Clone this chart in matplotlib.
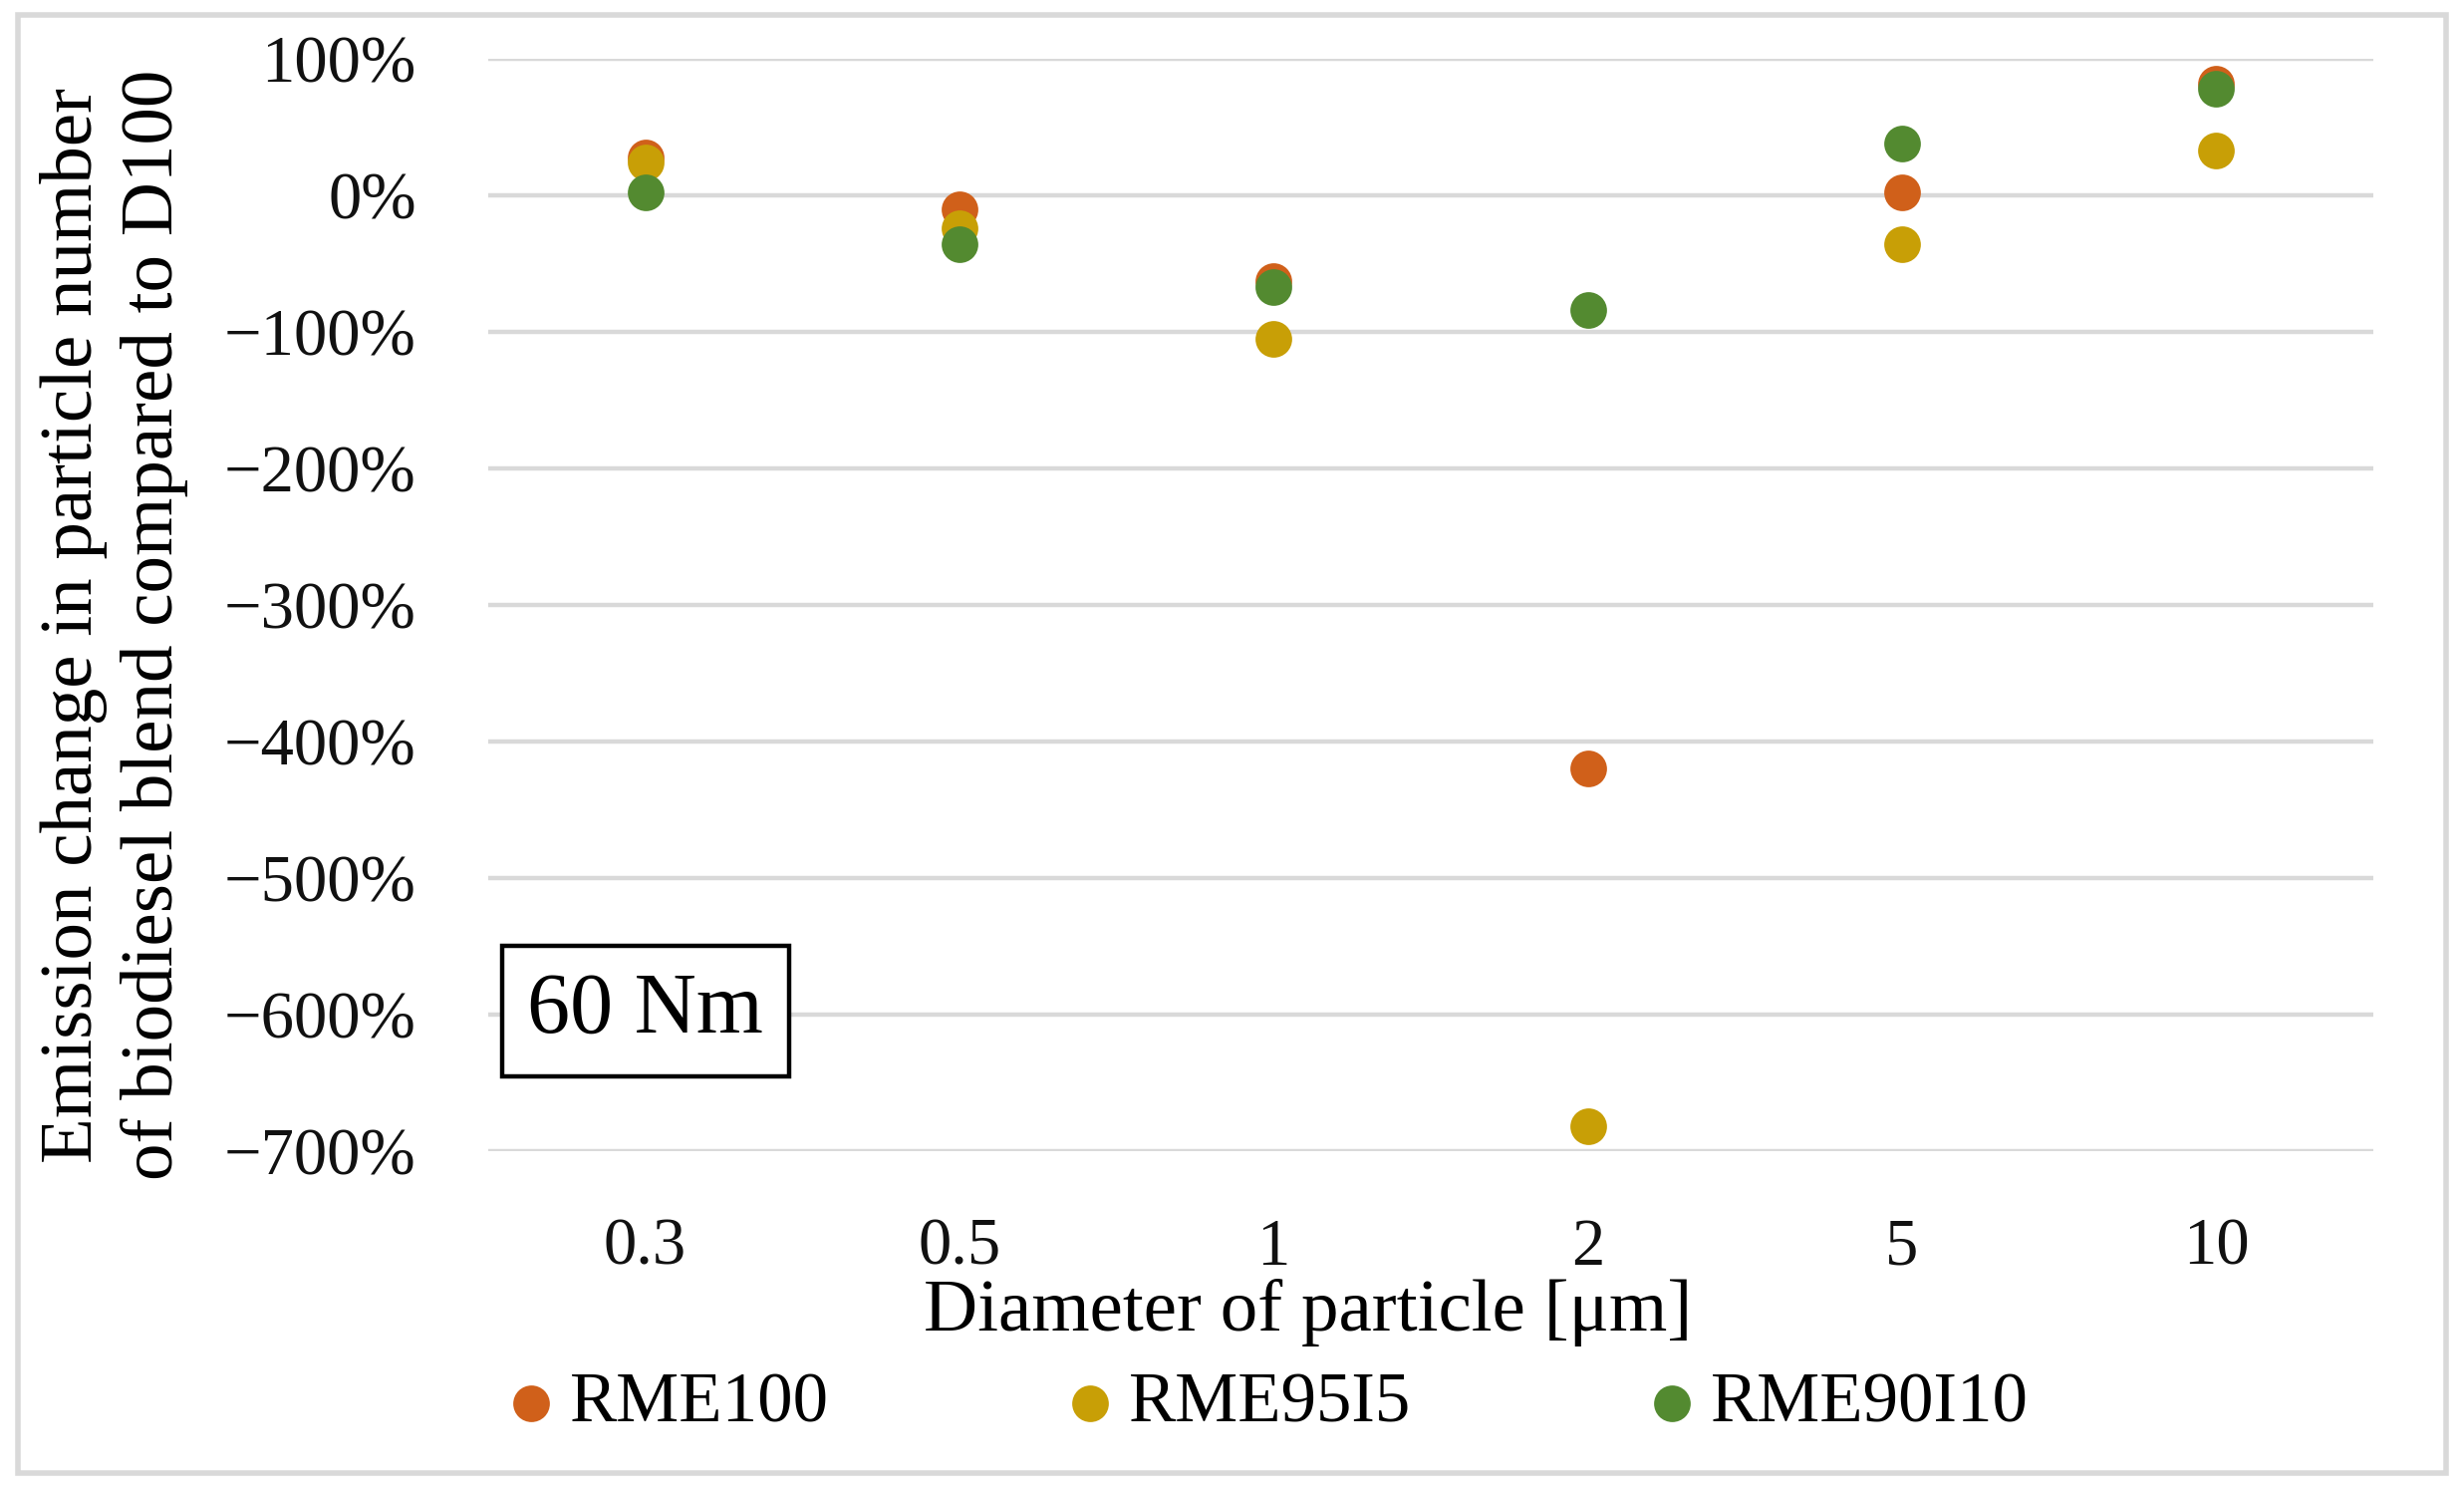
import matplotlib
matplotlib.use("Agg")
import matplotlib.pyplot as plt
from matplotlib.patches import Rectangle
from matplotlib.ticker import FuncFormatter

# data (percent change vs D100)
diameters = ["0.3", "0.5", "1", "2", "5", "10"]
rme100 = [28, -10, -63, -420, 2, 82]
rme95i5 = [24, -24, -105, -682, -36, 33]
rme90i10 = [2, -36, -67, -84, 38, 78]
series_names = ["RME100", "RME95I5", "RME90I10"]
series_colors = ["#D0601A", "#C89F06", "#538A30"]
y_ticks = [100, 0, -100, -200, -300, -400, -500, -600, -700]

plt.rcParams['font.family'] = ['Liberation Serif', 'DejaVu Serif']

fig = plt.figure(figsize=(12.365, 7.495), dpi=200)
ax = fig.add_axes([0.1981, 0.2295, 0.7651, 0.7311])

x = list(range(len(diameters)))
for vals, name, col in zip([rme100, rme95i5, rme90i10], series_names, series_colors):
    ax.scatter(x, vals, s=175, color=col, label=name, zorder=3, clip_on=False, linewidths=0)

ax.set_xlim(-0.5, len(diameters) - 0.5)
ax.set_ylim(-700, 100)
ax.set_xticks(x)
ax.set_xticklabels(diameters)
ax.set_yticks(y_ticks)
ax.yaxis.set_major_formatter(FuncFormatter(lambda v, p: ("\u2212%d%%" % -v) if v < 0 else "%d%%" % v))
ax.grid(axis='y', color='#D9D9D9', lw=1.6, zorder=0)
ax.set_axisbelow(True)
for s in ax.spines.values():
    s.set_visible(False)
ax.tick_params(axis='both', length=0, labelsize=24, colors='#111111')
ax.tick_params(axis='y', pad=26)
ax.tick_params(axis='x', pad=24)

# axis titles
fig.text(0.531, 0.1214, "Diameter of particle [\u03bcm]", ha='center', va='center', fontsize=27)
fig.text(0.0465, 0.5817, "Emission change in particle number\nof biodiesel blend compared to D100",
         rotation=90, ha='center', va='center', fontsize=27, linespacing=1.25)

# annotation box
fig.text(0.262, 0.323, "60 Nm", ha='center', va='center', fontsize=31,
         bbox=dict(boxstyle='square,pad=0.3', fc='white', ec='black', lw=1.6))

leg = fig.legend(loc='center', bbox_to_anchor=(0.515, 0.0600), ncol=3, frameon=False,
                 fontsize=25.5, columnspacing=3.4, handlelength=0.6, handletextpad=0.25,
                 borderaxespad=0)

# outer border
fig.patches.append(Rectangle((18 / 2473, 1 - 1478 / 1499), (2455 - 18) / 2473, (1478 - 15) / 1499,
                             transform=fig.transFigure, fill=False, ec='#D9D9D9', lw=2))

fig.savefig("out.png", dpi=200, facecolor='white')
